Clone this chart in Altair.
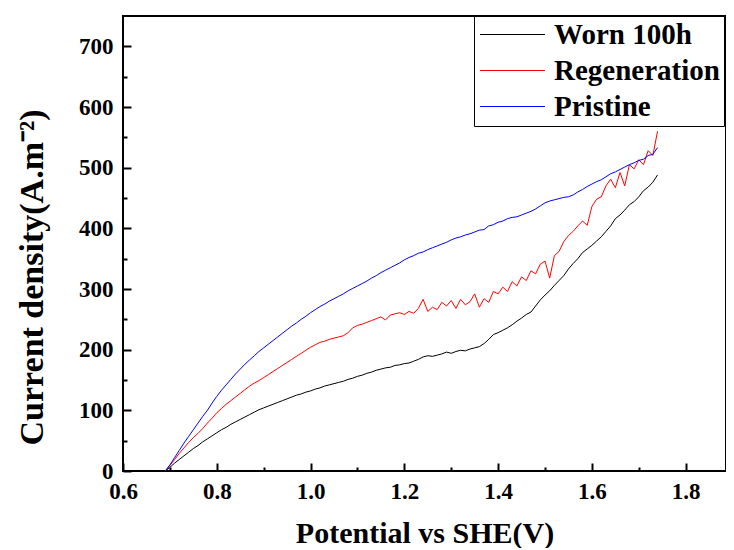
import altair as alt
import pandas as pd

# Potential (V vs SHE)
potential = [
    0.69, 0.70, 0.71, 0.72, 0.73, 0.74, 0.75, 0.76, 0.77, 0.78,
    0.79, 0.80, 0.81, 0.82, 0.83, 0.84, 0.85, 0.86, 0.87, 0.88,
    0.89, 0.90, 0.91, 0.92, 0.93, 0.94, 0.95, 0.96, 0.97, 0.98,
    0.99, 1.00, 1.01, 1.02, 1.03, 1.04, 1.05, 1.06, 1.07, 1.08,
    1.09, 1.10, 1.11, 1.12, 1.13, 1.14, 1.15, 1.16, 1.17, 1.18,
    1.19, 1.20, 1.21, 1.22, 1.23, 1.24, 1.25, 1.26, 1.27, 1.28,
    1.29, 1.30, 1.31, 1.32, 1.33, 1.34, 1.35, 1.36, 1.37, 1.38,
    1.39, 1.40, 1.41, 1.42, 1.43, 1.44, 1.45, 1.46, 1.47, 1.48,
    1.49, 1.50, 1.51, 1.52, 1.53, 1.54, 1.55, 1.56, 1.57, 1.58,
    1.59, 1.60, 1.61, 1.62, 1.63, 1.64, 1.65, 1.66, 1.67, 1.68,
    1.69, 1.70, 1.71, 1.72, 1.73, 1.74,
]

worn_100h = [
    0, 6, 13, 19, 25, 31, 37, 42, 48, 53,
    58, 63, 68, 72, 77, 81, 85, 89, 93, 97,
    101, 104, 107, 110, 113, 116, 119, 122, 125, 127,
    130, 132, 135, 137, 140, 142, 144, 146, 148, 151,
    153, 156, 158, 161, 163, 166, 168, 170, 171, 174,
    175, 177, 178, 181, 184, 188, 190, 189, 191, 193,
    196, 194, 197, 199, 198, 201, 203, 205, 210, 217,
    225, 228, 232, 236, 241, 247, 252, 258, 262, 272,
    282, 290, 297, 306, 314, 322, 333, 342, 350, 360,
    366, 372, 379, 386, 395, 404, 416, 422, 430, 439,
    444, 452, 462, 468, 476, 488,
]

regeneration = [
    0, 9, 19, 29, 38, 47, 55, 62, 70, 79,
    87, 96, 103, 110, 116, 122, 128, 134, 140, 145,
    149, 154, 159, 164, 169, 174, 179, 184, 189, 194,
    199, 204, 208, 212, 214, 217, 219, 221, 223, 228,
    236, 240, 242, 245, 248, 251, 254, 249, 257, 259,
    261, 258, 263, 260, 268, 283, 263, 270, 266, 278,
    272, 281, 268, 283, 274, 279, 292, 270, 284, 278,
    296, 292, 303, 296, 312, 305, 320, 314, 330, 325,
    341, 346, 318, 355, 362, 378, 388, 395, 404, 412,
    405, 436, 448, 452, 470, 481, 467, 492, 470, 505,
    498, 513, 505, 528, 520, 560,
]

pristine = [
    0, 10, 22, 34, 46, 57, 68, 79, 90, 100,
    112, 123, 133, 142, 151, 160, 168, 176, 183, 190,
    197, 203, 209, 215, 221, 227, 233, 239, 244, 250,
    255, 261, 266, 271, 275, 280, 284, 288, 292, 297,
    301, 305, 309, 313, 318, 322, 327, 331, 335, 339,
    343, 348, 352, 355, 359, 361, 365, 368, 371, 374,
    377, 381, 384, 386, 389, 391, 394, 397, 398, 404,
    406, 410, 412, 416, 418, 419, 422, 425, 428, 432,
    437, 442, 445, 447, 449, 451, 452, 455, 460, 464,
    469, 473, 477, 480, 485, 490, 493, 497, 501, 505,
    508, 512, 514, 520, 522, 533,
]

series_names = ["Worn 100h", "Regeneration", "Pristine"]
series_colors = ["#000000", "#ff0000", "#0000ff"]

x_major = [0.6, 0.8, 1.0, 1.2, 1.4, 1.6, 1.8]
x_minor = [0.7, 0.9, 1.1, 1.3, 1.5, 1.7]
y_major = [0, 100, 200, 300, 400, 500, 600, 700]
y_minor = [50, 150, 250, 350, 450, 550, 650]

rows = []
for name, vals in zip(series_names, [worn_100h, regeneration, pristine]):
    for v, j in zip(potential, vals):
        rows.append({"Potential": v, "Current": j, "Series": name})
df = pd.DataFrame(rows)

FONT = "Liberation Serif"
W, H = 603, 455

x_scale = alt.Scale(domain=[0.6, 1.886], nice=False, zero=False)
y_scale = alt.Scale(domain=[0, 750], nice=False, zero=False)

lines = alt.Chart(df).mark_line(strokeWidth=1.0).encode(
    x=alt.X(
        "Potential:Q", scale=x_scale,
        axis=alt.Axis(
            orient="bottom", values=x_major, format=".1f", ticks=False, tickSize=0,
            domain=False, grid=False, labelFont=FONT, labelFontSize=23,
            labelFontWeight="bold", labelColor="black", labelPadding=9,
            labelFlush=False, labelOverlap=False,
            title="Potential vs SHE(V)", titleFont=FONT, titleFontSize=30,
            titleFontWeight="bold", titleColor="black", titleY=71,
            titleBaseline="alphabetic",
        ),
    ),
    y=alt.Y(
        "Current:Q", scale=y_scale,
        axis=alt.Axis(
            orient="left", values=y_major, format="d", ticks=False, tickSize=0,
            domain=False, grid=False, labelFont=FONT, labelFontSize=23,
            labelFontWeight="bold", labelColor="black", labelPadding=10,
            labelFlush=False, labelOverlap=False,
            title="Current density(A.m⁻²)", titleFont=FONT, titleFontSize=34,
            titleFontWeight="bold", titleColor="black", titleAngle=270,
            titleX=-81, titleY=261, titleAlign="center", titleBaseline="alphabetic",
        ),
    ),
    color=alt.Color(
        "Series:N", sort=series_names,
        scale=alt.Scale(domain=series_names, range=series_colors),
        legend=alt.Legend(
            title="", orient="none", legendX=351, legendY=0, direction="vertical",
            symbolType="M-4,0H4", symbolSize=264, symbolStrokeWidth=1.0,
            symbolOffset=20, labelOffset=27, labelLimit=400,
            labelFont=FONT, labelFontSize=29, labelFontWeight="bold",
            labelColor="black", strokeColor="black", fillColor="white",
            padding=4, rowPadding=6,
        ),
    ),
)


def tick_layer(xv, yv, size):
    return alt.Chart(df).mark_point(opacity=0).encode(
        x=alt.X(
            "Potential:Q", scale=x_scale,
            axis=alt.Axis(
                orient="top", offset=-H, values=xv, labels=False, domain=False,
                grid=False, ticks=True, tickSize=size, tickWidth=2,
                tickColor="black", title="",
            ),
        ),
        y=alt.Y(
            "Current:Q", scale=y_scale,
            axis=alt.Axis(
                orient="right", offset=-W, values=yv, labels=False, domain=False,
                grid=False, ticks=True, tickSize=size, tickWidth=2,
                tickColor="black", title="",
            ),
        ),
    )


chart = alt.layer(
    lines, tick_layer(x_major, y_major, 8), tick_layer(x_minor, y_minor, 4)
).resolve_axis(
    x="independent", y="independent"
).properties(
    width=W, height=H,
    autosize=alt.AutoSizeParams(type="none"),
    padding={"left": 115, "top": 8, "right": 0, "bottom": 77},
    background="white",
).configure_view(stroke="black", strokeWidth=2)

chart.save("out.html", embed_options={"renderer": "svg", "actions": False})
